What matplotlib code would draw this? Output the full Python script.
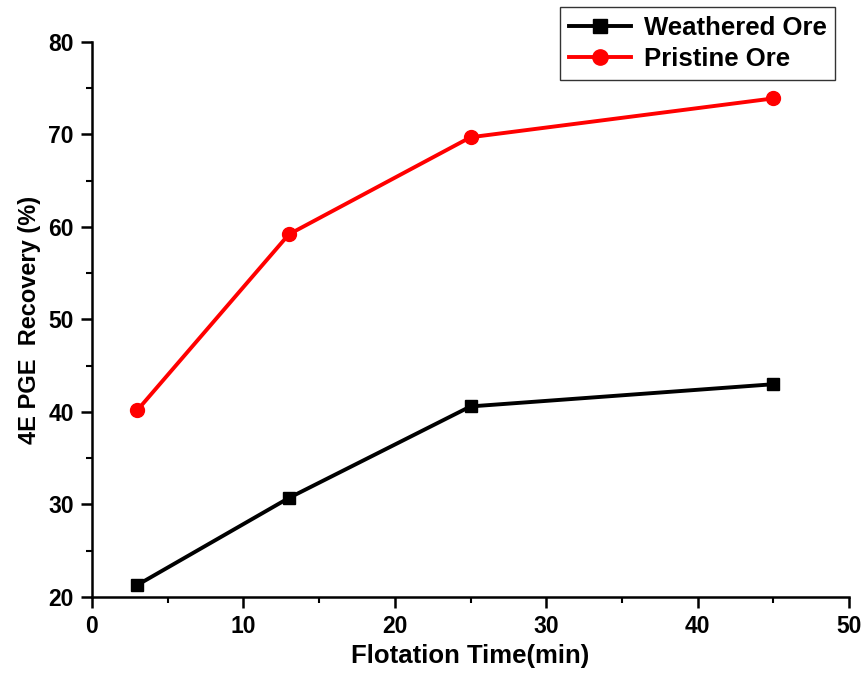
import matplotlib
matplotlib.use("Agg")
import matplotlib.pyplot as plt
from matplotlib.ticker import MultipleLocator

plt.rcParams['font.family'] = ['Liberation Sans', 'DejaVu Sans']
plt.rcParams['font.weight'] = 'bold'

time_min = [3, 13, 25, 45]
weathered = [21.3, 30.7, 40.6, 43.0]
pristine = [40.2, 59.2, 69.7, 73.9]

fig = plt.figure(figsize=(8.63, 6.75), dpi=100)
ax = fig.add_axes([0.1066, 0.1156, 0.8772, 0.8222])

ax.plot(time_min, weathered, color='black', lw=2.8, marker='s', ms=9,
        label='Weathered Ore')
ax.plot(time_min, pristine, color='red', lw=2.8, marker='o', ms=10,
        label='Pristine Ore')

ax.set_xlim(0, 50)
ax.set_ylim(20, 80)
ax.xaxis.set_major_locator(MultipleLocator(10))
ax.xaxis.set_minor_locator(MultipleLocator(5))
ax.yaxis.set_major_locator(MultipleLocator(10))
ax.yaxis.set_minor_locator(MultipleLocator(5))

for s in ('top', 'right'):
    ax.spines[s].set_visible(False)
for s in ('left', 'bottom'):
    ax.spines[s].set_linewidth(1.8)

ax.tick_params(which='major', direction='out', length=8, width=1.8,
               labelsize=16.5, pad=5)
ax.tick_params(which='minor', direction='out', length=4.5, width=1.5)
for lbl in ax.get_xticklabels() + ax.get_yticklabels():
    lbl.set_fontweight('bold')

ax.set_xlabel('Flotation Time(min)', fontsize=18.5, fontweight='bold', labelpad=4)
ax.set_ylabel('4E PGE  Recovery (%)', fontsize=17, fontweight='bold', labelpad=5)

leg = fig.legend(loc='upper left', bbox_to_anchor=(0.649, 0.99),
                 fontsize=18.5, frameon=True, fancybox=False,
                 handlelength=2.4, borderpad=0.35, labelspacing=0.3,
                 handletextpad=0.5, borderaxespad=0, markerscale=1.1)
leg.get_frame().set_edgecolor('black')
leg.get_frame().set_linewidth(1.0)
for t in leg.get_texts():
    t.set_fontweight('bold')

fig.savefig('out.png', dpi=100)
